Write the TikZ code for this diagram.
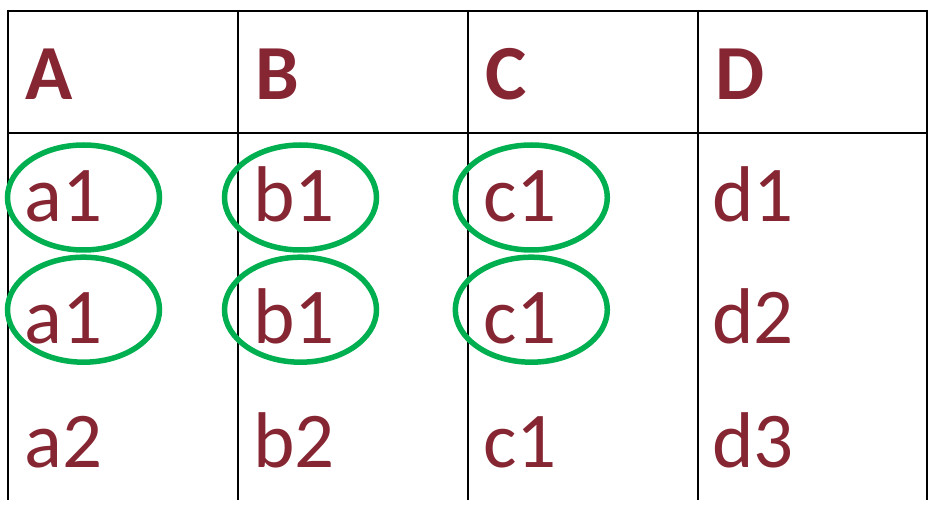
\documentclass[tikz,border=0pt]{standalone}
\usepackage{fontspec}
\setmainfont{Carlito}
\usetikzlibrary{positioning,shapes.geometric}
\definecolor{wine}{RGB}{134,38,51}
\definecolor{marker}{RGB}{0,176,80}
\tikzset{x=1pt, y=-1pt, % one unit is one pixel of the page
        grid/.style={ % Sets the properties for the table lines
            line width=2pt,
            black},
        head/.style={ % Column titles
            anchor=base west,
            inner sep=0pt,
            text=wine,
            font=\fontsize{78}{90}\selectfont\bfseries},
        cell/.style={ % Values in the table
            anchor=base west,
            inner sep=0pt,
            text=wine,
            font=\fontsize{79}{90}\selectfont},
        ring/.style={ % Green marks round matching values
            ellipse,
            draw=marker,
            line width=5.5pt,
            minimum width=152pt,
            minimum height=105pt}
        }
\begin{document}
\begin{tikzpicture}
    \useasboundingbox (0,0) rectangle (936,518);

    % table lines
    \draw[grid] (7.5,11) -- (927,11);
    \draw[grid] (7.5,133) -- (927,133);
    \draw[grid] (7.5,10) -- (7.5,500);
    \draw[grid] (237.7,10) -- (237.7,500);
    \draw[grid] (467.7,10) -- (467.7,500);
    \draw[grid] (697.7,10) -- (697.7,500);
    \draw[grid] (927,10) -- (927,500);

    % titles
    \node[head] (A) at (25,99.3)  {A};
    \node[head] (B) at (255,99.3) {B};
    \node[head] (C) at (485,99.3) {C};
    \node[head] (D) at (715,99.3) {D};

    % values
    \node[cell] (a1) at (24,221.7)  {a1};
    \node[cell] (b1) at (253,221.7) {b1};
    \node[cell] (c1) at (483,221.7) {c1};
    \node[cell] (d1) at (712,221.7) {d1};
    \node[cell] (a2) at (24,343.3)  {a1};
    \node[cell] (b2) at (253,343.3) {b1};
    \node[cell] (c2) at (483,343.3) {c1};
    \node[cell] (d2) at (712,343.3) {d2};
    \node[cell] (a3) at (24,467.3)  {a2};
    \node[cell] (b3) at (253,467.3) {b2};
    \node[cell] (c3) at (483,467.3) {c1};
    \node[cell] (d3) at (712,467.3) {d3};

    % marks
    \node[ring] (ma1) at (83.5,197.5)  {};
    \node[ring] (mb1) at (300.5,197.5) {};
    \node[ring] (mc1) at (531.3,197.5) {};
    \node[ring] (ma2) at (83.5,309.7)  {};
    \node[ring] (mb2) at (300.5,309.7) {};
    \node[ring] (mc2) at (531.3,309.7) {};
\end{tikzpicture}
\end{document}
